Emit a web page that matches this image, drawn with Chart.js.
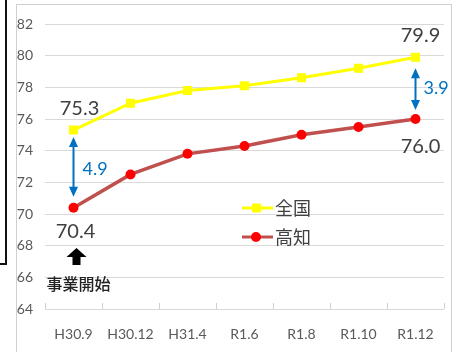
<!DOCTYPE html>
<html>
<head>
<meta charset="utf-8">
<script src="https://cdn.jsdelivr.net/npm/chart.js@4"></script>
<style>
  body { margin: 0; background: #fff; }
  #wrap { position: relative; width: 464px; height: 352px; overflow: hidden; }
  .frame { position: absolute; left: 16px; top: 4px; width: 436px; height: 360px; border: 1px solid #d0d0d0; box-sizing: border-box; }
  .borda-v { position: absolute; left: 5px; top: 0; width: 2px; height: 265px; background: #111; }
  .borda-h { position: absolute; left: 0; top: 263px; width: 7px; height: 2px; background: #111; }
  canvas { position: absolute; left: 0; top: 0; }
</style>
</head>
<body>
<div id="wrap">
  <div class="frame"></div>
  <div class="borda-v"></div>
  <div class="borda-h"></div>
  <canvas id="grafico" width="464" height="352"></canvas>
</div>
<script>
const categorias = ['H30.9', 'H30.12', 'H31.4', 'R1.6', 'R1.8', 'R1.10', 'R1.12'];
const zenkoku = [75.3, 77.0, 77.8, 78.1, 78.6, 79.2, 79.9];
const kochi = [70.4, 72.5, 73.8, 74.3, 75.0, 75.5, 76.0];
const nomes = ['全国', '高知'];
const yMin = 64, yMax = 82, yPasso = 2;

const fonte = "Lato, 'Noto Sans CJK JP', sans-serif";
const fonteJP = "'Noto Sans CJK JP', sans-serif";

function seta(ctx, x, yTopo, yBase, cor) {
  // seta dupla vertical
  ctx.strokeStyle = cor;
  ctx.fillStyle = cor;
  ctx.lineWidth = 2;
  ctx.beginPath();
  ctx.moveTo(x, yTopo + 8);
  ctx.lineTo(x, yBase - 8);
  ctx.stroke();
  ctx.beginPath();
  ctx.moveTo(x, yTopo); ctx.lineTo(x - 4.5, yTopo + 10); ctx.lineTo(x + 4.5, yTopo + 10);
  ctx.closePath(); ctx.fill();
  ctx.beginPath();
  ctx.moveTo(x, yBase); ctx.lineTo(x - 4.5, yBase - 10); ctx.lineTo(x + 4.5, yBase - 10);
  ctx.closePath(); ctx.fill();
}

const anotacoes = {
  id: 'anotacoes',
  afterDatasetsDraw(chart) {
    const ctx = chart.ctx;
    const xs = chart.scales.x, ys = chart.scales.y;
    const ultimo = categorias.length - 1;
    ctx.save();

    // marcas do eixo x (para dentro)
    ctx.strokeStyle = '#d0d0d0';
    ctx.lineWidth = 1;
    const base = ys.getPixelForValue(yMin);
    for (let i = 0; i <= categorias.length; i++) {
      const x = Math.round(xs.getPixelForValue(i - 0.5)) + 0.5;
      ctx.beginPath(); ctx.moveTo(x, base - 6); ctx.lineTo(x, base); ctx.stroke();
    }

    // valores
    ctx.fillStyle = '#404040';
    ctx.font = '20px ' + fonte;
    ctx.textAlign = 'center';
    ctx.textBaseline = 'middle';
    const x0 = xs.getPixelForValue(0), xN = xs.getPixelForValue(ultimo);
    ctx.fillText(zenkoku[0].toFixed(1), x0 + 6, ys.getPixelForValue(zenkoku[0]) - 22);
    ctx.fillText(kochi[0].toFixed(1), x0 + 2, ys.getPixelForValue(kochi[0]) + 24);
    ctx.fillText(zenkoku[ultimo].toFixed(1), xN + 5, ys.getPixelForValue(zenkoku[ultimo]) - 22);
    ctx.fillText(kochi[ultimo].toFixed(1), xN + 5, ys.getPixelForValue(kochi[ultimo]) + 28);

    // diferencas
    const azul = '#0070c0';
    const yz0 = ys.getPixelForValue(zenkoku[0]), yk0 = ys.getPixelForValue(kochi[0]);
    seta(ctx, x0, yz0 + 7, yk0 - 11, azul);
    const yzN = ys.getPixelForValue(zenkoku[ultimo]), ykN = ys.getPixelForValue(kochi[ultimo]);
    seta(ctx, xN, yzN + 11, ykN - 9, azul);
    ctx.fillStyle = azul;
    ctx.font = '18px ' + fonte;
    ctx.textAlign = 'left';
    ctx.fillText((zenkoku[0] - kochi[0]).toFixed(1), x0 + 9, (yz0 + yk0) / 2);
    ctx.fillText((zenkoku[ultimo] - kochi[ultimo]).toFixed(1), xN + 8, (yzN + ykN) / 2);

    // seta preta + texto
    const xa = x0 + 3;
    ctx.fillStyle = '#000';
    ctx.beginPath();
    ctx.moveTo(xa, 248); ctx.lineTo(xa - 10, 257); ctx.lineTo(xa - 4, 257); ctx.lineTo(xa - 4, 265);
    ctx.lineTo(xa + 4, 265); ctx.lineTo(xa + 4, 257); ctx.lineTo(xa + 10, 257);
    ctx.closePath(); ctx.fill();
    ctx.fillStyle = '#222';
    ctx.font = '500 16px ' + fonteJP;
    ctx.textAlign = 'center';
    ctx.fillText('事業開始', x0 + 5, 284);

    // legenda dentro do grafico
    const itens = [
      { nome: nomes[0], linha: '#ffff00', ponto: '#ffff00', estilo: 'rect', y: 208 },
      { nome: nomes[1], linha: '#c0504d', ponto: '#ff0000', estilo: 'circle', y: 237 }
    ];
    itens.forEach(it => {
      ctx.strokeStyle = it.linha;
      ctx.lineWidth = 3;
      ctx.beginPath(); ctx.moveTo(242, it.y); ctx.lineTo(273, it.y); ctx.stroke();
      ctx.fillStyle = it.ponto;
      if (it.estilo === 'rect') {
        ctx.fillRect(252, it.y - 4.5, 9, 9);
      } else {
        ctx.beginPath(); ctx.arc(256, it.y, 5, 0, Math.PI * 2); ctx.fill();
      }
      ctx.fillStyle = '#404040';
      ctx.font = '18px ' + fonteJP;
      ctx.textAlign = 'left';
      ctx.fillText(it.nome, 275, it.y);
    });

    ctx.restore();
  }
};

const ctx = document.getElementById('grafico').getContext('2d');
new Chart(ctx, {
  type: 'line',
  data: {
    labels: categorias,
    datasets: [
      {
        label: nomes[0], data: zenkoku,
        borderColor: '#ffff00', backgroundColor: '#ffff00',
        borderWidth: 3, pointStyle: 'rect', pointRadius: 6.4,
        pointBorderWidth: 0, tension: 0
      },
      {
        label: nomes[1], data: kochi,
        borderColor: '#c0504d', backgroundColor: '#ff0000',
        borderWidth: 3.5, pointStyle: 'circle', pointRadius: 5,
        pointBorderWidth: 0, tension: 0
      }
    ]
  },
  options: {
    responsive: false,
    animation: false,
    layout: { padding: { top: 24, right: 20, left: 0, bottom: 0 } },
    plugins: { legend: { display: false }, tooltip: { enabled: false } },
    scales: {
      x: {
        offset: true,
        grid: { display: false },
        border: { display: false },
        ticks: { color: '#595959', font: { family: fonte, size: 14 }, padding: 9, maxRotation: 0 },
        afterFit(scale) { scale.height = 43; }
      },
      y: {
        min: yMin, max: yMax,
        grid: { color: '#d9d9d9', drawTicks: false },
        border: { display: false },
        ticks: { stepSize: yPasso, color: '#595959', font: { family: fonte, size: 14 }, padding: 12 },
        afterFit(scale) { scale.width = 45; }
      }
    }
  },
  plugins: [anotacoes]
});
</script>
</body>
</html>
